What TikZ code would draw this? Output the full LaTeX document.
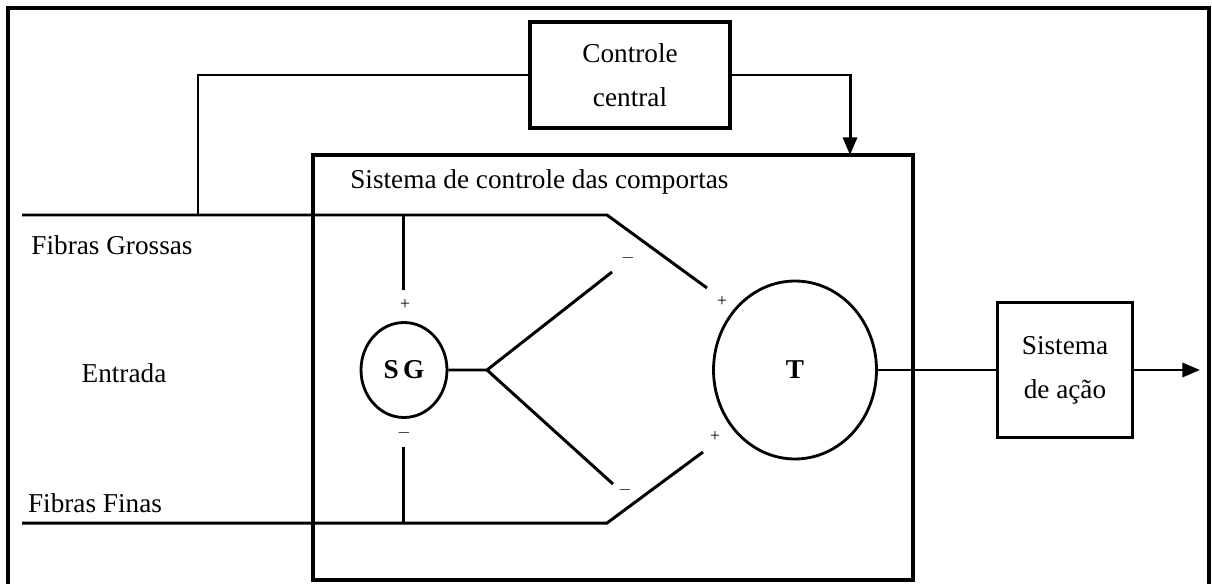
\documentclass[tikz,border=0pt]{standalone}
\usepackage{fontspec}
\setmainfont{Liberation Serif}
\usetikzlibrary{shapes.geometric,arrows.meta}

\begin{document}
\begin{tikzpicture}[x=0.02cm,y=-0.02cm,
  linha/.style={line width=1.7pt},
  caixa/.style={draw,line width=1.9pt,align=center,inner sep=0pt,font=\fontsize{15.5}{25}\selectfont},
  celula/.style={draw,ellipse,line width=1.6pt,inner sep=0pt,font=\fontsize{15.5}{18}\selectfont\bfseries},
  sinal/.style={inner sep=0pt,font=\normalsize},
  rotulo/.style={inner sep=0pt,font=\fontsize{15.5}{18}\selectfont}]
\useasboundingbox (0,0) rectangle (1212,584);
\draw[line width=1.8pt] (8,584) -- (8,8) -- (1209,8) -- (1209,584);

% blocos
\node[caixa,minimum width=4cm,minimum height=2.12cm] (controle) at (630,75) {Controle\\central};
\node[caixa,minimum width=12cm,minimum height=8.5cm] (portas) at (613,367.5) {};
\node[rotulo,anchor=west] (titulo) at (350,182) {Sistema de controle das comportas};
\node[celula,minimum width=1.72cm,minimum height=1.9cm] (SG) at (404,370) {S\,G};
\node[celula,minimum width=3.26cm,minimum height=3.56cm] (T) at (795,370) {T};
\node[caixa,minimum width=2.7cm,minimum height=2.7cm] (acao) at (1065,370) {Sistema\\de ação};

% entradas
\node[rotulo] (grossas) at (112,245) {Fibras Grossas};
\node[rotulo] (entrada) at (124,373) {Entrada};
\node[rotulo] (finas) at (95,503) {Fibras Finas};

\coordinate (g0) at (22,215);
\coordinate (g1) at (198,215);
\coordinate (g2) at (403,215);
\coordinate (g3) at (607,215);
\coordinate (g4) at (707,288);
\coordinate (f0) at (22,523);
\coordinate (f1) at (403,523);
\coordinate (f2) at (607,523);
\coordinate (f3) at (703,452);
\coordinate (sg1) at (403,290);
\coordinate (sg2) at (403,447);
\coordinate (ramo) at (487,370);
\coordinate (r1) at (612,272);
\coordinate (r2) at (613,484);
\coordinate (alvo) at (850,155);
\coordinate (saida) at (1200,370);

\draw[linha] (g0) -- (g3) -- (g4);
\draw[linha] (f0) -- (f2) -- (f3);
\draw[linha] (controle.west) -| (g1);
\draw[linha,-{Triangle[length=10pt,width=8pt]}] (controle.east) -| (alvo);
\draw[linha] (g2) -- (sg1);
\draw[linha] (f1) -- (sg2);
\draw[linha] (SG.east) -- (ramo) -- (r1);
\draw[linha] (ramo) -- (r2);
\draw[line width=1.1pt] (T.east) -- (acao.west);
\draw[linha,-{Triangle[length=10pt,width=8pt]}] (acao.east) -- (saida);

% sinais
\node[sinal] (p1) at (405,305) {+};
\node[sinal] (m1) at (404,433) {$-$};
\node[sinal] (m2) at (628,258) {$-$};
\node[sinal] (p2) at (722,302) {+};
\node[sinal] (m3) at (625,490) {$-$};
\node[sinal] (p3) at (715,437) {+};
\end{tikzpicture}
\end{document}
